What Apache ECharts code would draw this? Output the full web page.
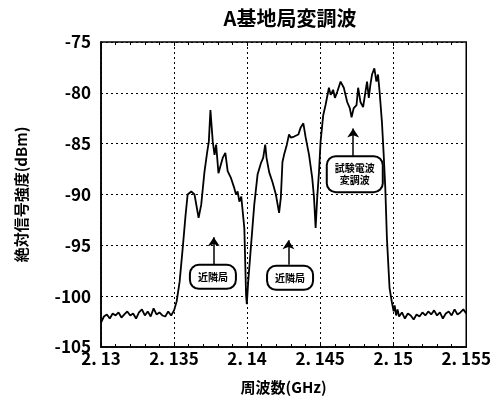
<!DOCTYPE html>
<html>
<head>
<meta charset="utf-8">
<script src="https://cdn.jsdelivr.net/npm/echarts@6/dist/echarts.min.js"></script>
<style>
html,body{margin:0;padding:0;background:#fff;}
#chart{width:494px;height:404px;}
</style>
</head>
<body>
<div id="chart"></div>
<script>
// 周波数 (GHz) と 絶対信号強度 (dBm)
var freqLeftFloor = [2.1300,2.1302,2.1304,2.1306,2.1308,2.1310,2.1312,2.1314,2.1316,2.1318,2.1320,2.1322,2.1324,2.1326,2.1328,2.1330,2.1332,2.1334,2.1336,2.1338,2.1340,2.1342,2.1344,2.1346,2.1348,2.1350];
var levelLeftFloor = [-102.6,-102.0,-101.8,-102.2,-101.7,-101.9,-101.6,-102.1,-101.8,-101.5,-101.9,-101.7,-102.2,-101.6,-101.3,-101.9,-101.5,-102.0,-101.2,-101.8,-101.6,-101.9,-102.0,-101.5,-101.9,-101.4];

var freqSignal = [2.13518,2.13538,2.13561,2.13579,2.13593,2.13618,2.13640,2.13668,2.13686,2.13708,2.13727,2.13738,2.13749,2.13765,2.13777,2.13788,2.13804,2.13833,2.13851,2.13867,2.13890,2.13913,2.13924,2.13935,2.13947,2.13960,2.13981,2.13993,2.13998,2.14008,2.14027,2.14049,2.14072,2.14095,2.14110,2.14124,2.14133,2.14151,2.14174,2.14197,2.14219,2.14231,2.14242,2.14253,2.14272,2.14287,2.14299,2.14322,2.14351,2.14367,2.14385,2.14401,2.14424,2.14446,2.14458,2.14469,2.14480,2.14492,2.14503,2.14521,2.14537,2.14560,2.14572,2.14589,2.14601,2.14617,2.14640,2.14662,2.14685,2.14703,2.14715,2.14730,2.14749,2.14760,2.14776,2.14794,2.14810,2.14821,2.14833,2.14844,2.14855,2.14871,2.14885,2.14896,2.14907,2.14923,2.14935,2.14946,2.14957,2.14975,2.14991,2.15003];
var levelSignal = [-100.5,-98.6,-95.0,-92.0,-90.0,-89.7,-90.0,-92.3,-91.0,-87.8,-85.8,-84.8,-81.7,-84.8,-86.1,-85.1,-87.9,-86.4,-85.9,-87.7,-88.4,-89.4,-90.0,-89.7,-90.7,-90.2,-93.3,-99.9,-100.8,-98.5,-95.0,-91.0,-88.0,-86.9,-86.4,-85.1,-86.4,-87.8,-88.8,-90.0,-91.8,-90.3,-86.8,-86.1,-85.1,-84.1,-84.4,-84.3,-84.1,-83.4,-83.0,-84.4,-86.1,-88.4,-90.3,-93.3,-90.3,-87.8,-84.8,-82.2,-81.2,-79.5,-80.2,-79.7,-80.5,-79.9,-78.9,-79.5,-80.9,-81.5,-82.4,-81.5,-81.2,-79.5,-80.9,-81.4,-79.9,-78.9,-80.5,-79.2,-78.2,-77.6,-78.9,-78.2,-79.9,-82.9,-86.1,-89.4,-94.3,-99.2,-100.6,-101.5];

var freqRightFloor = [2.1501,2.1502,2.1503,2.1504,2.1506,2.1508,2.1510,2.1512,2.1514,2.1516,2.1518,2.1520,2.1522,2.1524,2.1526,2.1528,2.1530,2.1532,2.1534,2.1536,2.1538,2.1540,2.1542,2.1544,2.1546,2.1548,2.1550];
var levelRightFloor = [-100.9,-101.9,-101.3,-102.0,-101.6,-102.2,-101.7,-101.9,-102.3,-101.8,-102.0,-101.6,-101.9,-101.5,-101.8,-101.4,-101.9,-101.6,-102.2,-101.7,-101.5,-101.9,-101.3,-101.8,-101.6,-101.3,-101.7];

var xTickLabels = ['2. 13','2. 135','2. 14','2. 145','2. 15','2. 155'];

// 注記 (テキスト, 箱の位置, 矢印の始点と終点)
var noteTexts = ['近隣局','近隣局','試験電波\n変調波'];
var noteBoxAt = [[2.13766,-98.1],[2.14294,-98.2],[2.14737,-88.0]];
var noteArrowFrom = [[2.13772,-96.9],[2.14283,-96.9],[2.14726,-86.3]];
var noteArrowTo = [[2.13772,-94.2],[2.14283,-94.5],[2.14726,-83.5]];

var FONT = '"Noto Sans CJK JP", sans-serif';

var lineData = [];
function addPts(fs, vs){
	for(var i = 0;i<fs.length;i++){
		lineData.push([fs[i],vs[i]]);
	}
}
addPts(freqLeftFloor,levelLeftFloor);
addPts(freqSignal,levelSignal);
addPts(freqRightFloor,levelRightFloor);

var boxPoints = [],arrowLines = [];
for(var i = 0;i<noteTexts.length;i++){
	boxPoints.push({
		coord: noteBoxAt[i],
		symbolSize: 0,
		label: {
			show: true,
			position: 'inside',
			formatter: noteTexts[i],
			fontFamily: FONT,
			fontWeight: 'bold',
			fontSize: 10,
			lineHeight: 12,
			color: '#000',
			backgroundColor: '#fff',
			borderColor: '#000',
			borderWidth: 2,
			borderRadius: 8,
			padding: [5,7]
		}
	});
	arrowLines.push([{coord: noteArrowFrom[i]},{coord: noteArrowTo[i]}]);
}

var gridLine = {show: true, lineStyle: {color: '#000', type: [2,3], width: 1}};

var myChart = echarts.init(document.getElementById('chart'));
myChart.setOption({
	animation: false,
	backgroundColor: '#fff',
	title: {
		text: 'A基地局変調波',
		left: 285,
		textAlign: 'center',
		top: 3,
		textStyle: {fontFamily: FONT, fontWeight: 'bold', fontSize: 20, color: '#000'}
	},
	grid: {
		left: 101, right: 26, top: 42, bottom: 57,
		show: true, borderColor: '#000', borderWidth: 1.5, backgroundColor: 'transparent'
	},
	xAxis: [
		{
			type: 'value', min: 2.13, max: 2.155, interval: 0.005,
			name: '周波数(GHz)', nameLocation: 'middle', nameGap: 33,
			nameTextStyle: {fontFamily: FONT, fontWeight: 'bold', fontSize: 15, color: '#000'},
			axisLine: {lineStyle: {color: '#000', width: 1.5}},
			axisTick: {show: true, inside: true, length: 4, lineStyle: {color: '#000'}},
			minorTick: {show: true, splitNumber: 5, length: 3, lineStyle: {color: '#000'}},
			axisLabel: {
				margin: 3, fontFamily: FONT, fontWeight: 'bold', fontSize: 17, color: '#000',
				formatter: function(v){ return xTickLabels[Math.round((v-2.13)/0.005)]; }
			},
			splitLine: gridLine
		},
		{
			type: 'value', min: 2.13, max: 2.155, interval: 0.005, position: 'top',
			axisLine: {show: false},
			axisTick: {show: true, inside: true, length: 4, lineStyle: {color: '#000'}},
			minorTick: {show: true, splitNumber: 5, length: 3, lineStyle: {color: '#000'}},
			axisLabel: {show: false},
			splitLine: {show: false}
		}
	],
	yAxis: {
		type: 'value', min: -105, max: -75, interval: 5,
		name: '絶対信号強度(dBm)', nameLocation: 'middle', nameGap: 72, nameRotate: 90,
		nameTextStyle: {fontFamily: FONT, fontWeight: 'bold', fontSize: 15, color: '#000'},
		axisLine: {lineStyle: {color: '#000', width: 1.5}},
		axisTick: {show: false},
		axisLabel: {margin: 10, fontFamily: FONT, fontWeight: 'bold', fontSize: 17, color: '#000'},
		splitLine: gridLine
	},
	series: [{
		type: 'line',
		data: lineData,
		showSymbol: false,
		lineStyle: {color: '#000', width: 1.8},
		silent: true,
		markPoint: {silent: true, data: boxPoints},
		markLine: {
			silent: true,
			symbol: ['none','arrow'],
			symbolSize: 9,
			lineStyle: {color: '#000', width: 1.5, type: 'solid'},
			label: {show: false},
			data: arrowLines
		}
	}]
});
</script>
</body>
</html>
